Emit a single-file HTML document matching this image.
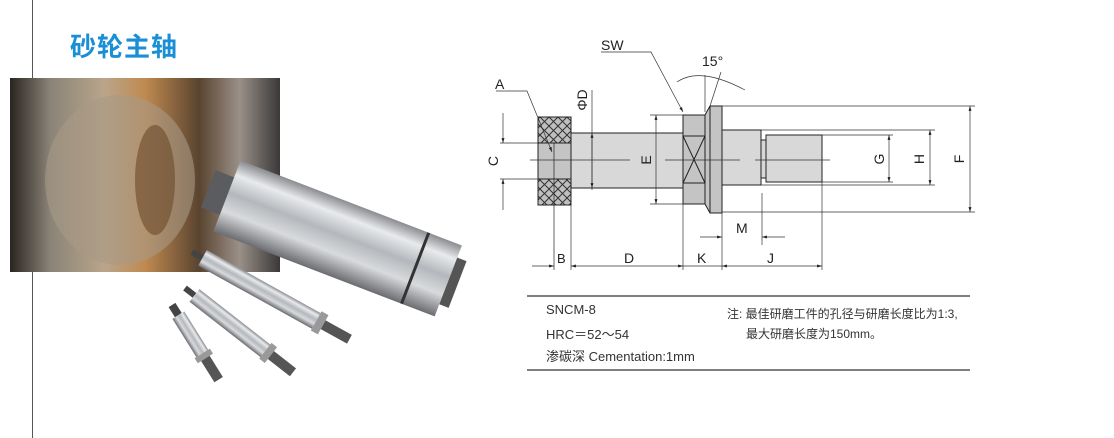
<!DOCTYPE html>
<html><head><meta charset="utf-8"><style>
body{margin:0;width:1114px;height:438px;background:#fff;overflow:hidden;position:relative;font-family:"Liberation Sans","Noto Sans CJK SC",sans-serif}
.t{position:absolute;font-size:13px;color:#333;white-space:nowrap}
</style></head><body>
<div style="position:absolute;left:32px;top:0;width:1px;height:438px;background:#555"></div>
<div style="position:absolute;left:70px;top:27px;font-size:26px;font-weight:bold;color:#1a8fd6;font-family:'Noto Sans CJK SC',sans-serif;letter-spacing:1px">砂轮主轴</div>
<svg width="1114" height="438" style="position:absolute;left:0;top:0">
<defs>
<linearGradient id="ph" x1="0" y1="0" x2="1" y2="0"><stop offset="0" stop-color="#2a2520"/><stop offset=".15" stop-color="#8a8478"/><stop offset=".35" stop-color="#b9a58a"/><stop offset=".5" stop-color="#c08a50"/><stop offset=".7" stop-color="#5a4430"/><stop offset=".85" stop-color="#9a9088"/><stop offset="1" stop-color="#3a3838"/></linearGradient>
<linearGradient id="cy" x1="0" y1="0" x2="0" y2="1"><stop offset="0" stop-color="#8a8c90"/><stop offset=".2" stop-color="#e8eaec"/><stop offset=".45" stop-color="#b4b8bc"/><stop offset=".7" stop-color="#d8dadc"/><stop offset="1" stop-color="#6a6c70"/></linearGradient>
<pattern id="xh" width="9" height="9" patternUnits="userSpaceOnUse"><rect width="9" height="9" fill="#bfbfbf"/><path d="M0 0L9 9M9 0L0 9" stroke="#333" stroke-width="1"/></pattern>
<marker id="ar" viewBox="0 0 10 10" refX="10" refY="5" markerWidth="7" markerHeight="7" orient="auto-start-reverse"><path d="M0 2L10 5L0 8z" fill="#222"/></marker>
</defs>
<!-- photo -->
<rect x="10" y="78" width="270" height="194" fill="url(#ph)"/>
<ellipse cx="120" cy="180" rx="75" ry="85" fill="#a89a86" opacity=".6"/>
<ellipse cx="155" cy="180" rx="20" ry="55" fill="#6a4a2a" opacity=".6"/>
<!-- big cylinder -->
<g transform="translate(227,196) rotate(21)">
<rect x="-20" y="-20" width="25" height="40" fill="#5a5c60"/>
<rect x="0" y="-38" width="237" height="76" fill="url(#cy)"/>
<rect x="200" y="-38" width="3" height="76" fill="#333"/>
<rect x="237" y="-25" width="10" height="50" fill="#555"/>
</g>
<!-- small spindles -->
<g transform="translate(192,252) rotate(29)"><rect x="0" y="-3" width="12" height="6" fill="#444"/><rect x="12" y="-9" width="130" height="18" fill="url(#cy)"/><rect x="142" y="-11" width="8" height="22" fill="#999"/><rect x="150" y="-5" width="30" height="10" fill="#555"/></g>
<g transform="translate(185,288) rotate(38)"><rect x="0" y="-3" width="12" height="6" fill="#444"/><rect x="12" y="-8" width="90" height="16" fill="url(#cy)"/><rect x="102" y="-10" width="7" height="20" fill="#999"/><rect x="109" y="-5" width="28" height="10" fill="#555"/></g>
<g transform="translate(172,305) rotate(58)"><rect x="0" y="-4" width="12" height="8" fill="#444"/><rect x="12" y="-7" width="45" height="14" fill="url(#cy)"/><rect x="57" y="-9" width="6" height="18" fill="#999"/><rect x="63" y="-5" width="25" height="10" fill="#555"/></g>

<!-- drawing -->
<g stroke="#222" stroke-width="1" fill="none">
<rect x="538" y="117" width="33" height="26" fill="url(#xh)"/>
<rect x="538" y="179" width="33" height="26" fill="url(#xh)"/>
<rect x="538" y="143" width="33" height="36" fill="#c4c4c4"/>
<line x1="554" y1="143" x2="554" y2="270" stroke-width=".7"/>
<rect x="571" y="133" width="112" height="55" fill="#d8d8d8"/>
<rect x="683" y="115" width="22" height="89" fill="#c4c4c4"/>
<rect x="683" y="136" width="22" height="47"/>
<path d="M683 136L705 183M705 136L683 183"/>
<path d="M705 115L710 106L722 106L722 213L710 213L705 204Z" fill="#c4c4c4"/>
<line x1="710" y1="106" x2="710" y2="213"/>
<rect x="722" y="130" width="39" height="55" fill="#d8d8d8"/>
<rect x="761" y="140" width="5" height="38" fill="#d8d8d8"/>
<rect x="766" y="135" width="56" height="47" fill="#d8d8d8"/>
</g>
<g stroke="#333" stroke-width=".7" fill="none">
<line x1="530" y1="160" x2="630" y2="160"/><line x1="665" y1="160" x2="740" y2="160"/><line x1="755" y1="160" x2="830" y2="160"/>
<line x1="722" y1="106" x2="975" y2="106"/><line x1="722" y1="212" x2="975" y2="212"/>
<line x1="761" y1="130" x2="935" y2="130"/><line x1="761" y1="185" x2="935" y2="185"/>
<line x1="822" y1="135" x2="893" y2="135"/><line x1="822" y1="182" x2="893" y2="182"/>
<line x1="650" y1="115" x2="683" y2="115"/><line x1="650" y1="204" x2="683" y2="204"/>
<line x1="500" y1="143" x2="538" y2="143"/><line x1="500" y1="179" x2="538" y2="179"/>
<line x1="592" y1="90" x2="592" y2="190"/>
<line x1="571" y1="205" x2="571" y2="270"/><line x1="683" y1="204" x2="683" y2="270"/><line x1="722" y1="213" x2="722" y2="270"/><line x1="822" y1="182" x2="822" y2="270"/><line x1="762" y1="193" x2="762" y2="245"/>
<line x1="970" y1="106" x2="970" y2="212" marker-start="url(#ar)" marker-end="url(#ar)"/>
<line x1="930" y1="130" x2="930" y2="185" marker-start="url(#ar)" marker-end="url(#ar)"/>
<line x1="889" y1="135" x2="889" y2="182" marker-start="url(#ar)" marker-end="url(#ar)"/>
<line x1="656" y1="115" x2="656" y2="204" marker-start="url(#ar)" marker-end="url(#ar)"/>
<line x1="592" y1="133" x2="592" y2="188" marker-start="url(#ar)" marker-end="url(#ar)"/>
<line x1="503" y1="113" x2="503" y2="143" marker-end="url(#ar)"/><line x1="503" y1="210" x2="503" y2="179" marker-end="url(#ar)"/>
<line x1="532" y1="266" x2="554" y2="266" marker-end="url(#ar)"/>
<line x1="571" y1="266" x2="683" y2="266" marker-start="url(#ar)" marker-end="url(#ar)"/>
<line x1="683" y1="266" x2="722" y2="266"/>
<line x1="722" y1="266" x2="822" y2="266" marker-start="url(#ar)" marker-end="url(#ar)"/>
<line x1="700" y1="237" x2="722" y2="237" marker-end="url(#ar)"/><line x1="785" y1="237" x2="762" y2="237" marker-end="url(#ar)"/>
<path d="M496 91L527 91L552 152" marker-end="url(#ar)"/>
<path d="M601 52L651 52L683 112" marker-end="url(#ar)"/>
<line x1="705" y1="75" x2="705" y2="112"/><line x1="710" y1="106" x2="721" y2="72"/>
<path d="M677 82Q700 66 745 90"/>
<line x1="527" y1="296" x2="970" y2="296" stroke-width="1.2"/><line x1="527" y1="370" x2="970" y2="370" stroke-width="1.2"/>
</g>
<g font-family="Liberation Sans,sans-serif" font-size="14" fill="#222">
<text x="495" y="89">A</text><text x="601" y="50">SW</text><text x="702" y="66">15°</text>
<text x="557" y="263" font-size="13">B</text><text x="624" y="263">D</text><text x="697" y="263">K</text><text x="767" y="263">J</text><text x="736" y="233">M</text>
<text transform="translate(498,161) rotate(-90)" text-anchor="middle">C</text>
<text transform="translate(651,160) rotate(-90)" text-anchor="middle">E</text>
<text transform="translate(587,100) rotate(-90)" text-anchor="middle">ΦD</text>
<text transform="translate(884,159) rotate(-90)" text-anchor="middle">G</text>
<text transform="translate(924,159) rotate(-90)" text-anchor="middle">H</text>
<text transform="translate(964,159) rotate(-90)" text-anchor="middle">F</text>
</g>
</svg>
<div class="t" style="left:546px;top:302px">SNCM-8</div>
<div class="t" style="left:546px;top:324px">HRC＝52～54</div>
<div class="t" style="left:546px;top:346px">渗碳深 Cementation:1mm</div>
<div class="t" style="left:727px;top:305px;font-size:12px">注: 最佳研磨工件的孔径与研磨长度比为1:3,</div>
<div class="t" style="left:746px;top:325px;font-size:12px">最大研磨长度为150mm。</div>
</body></html>
